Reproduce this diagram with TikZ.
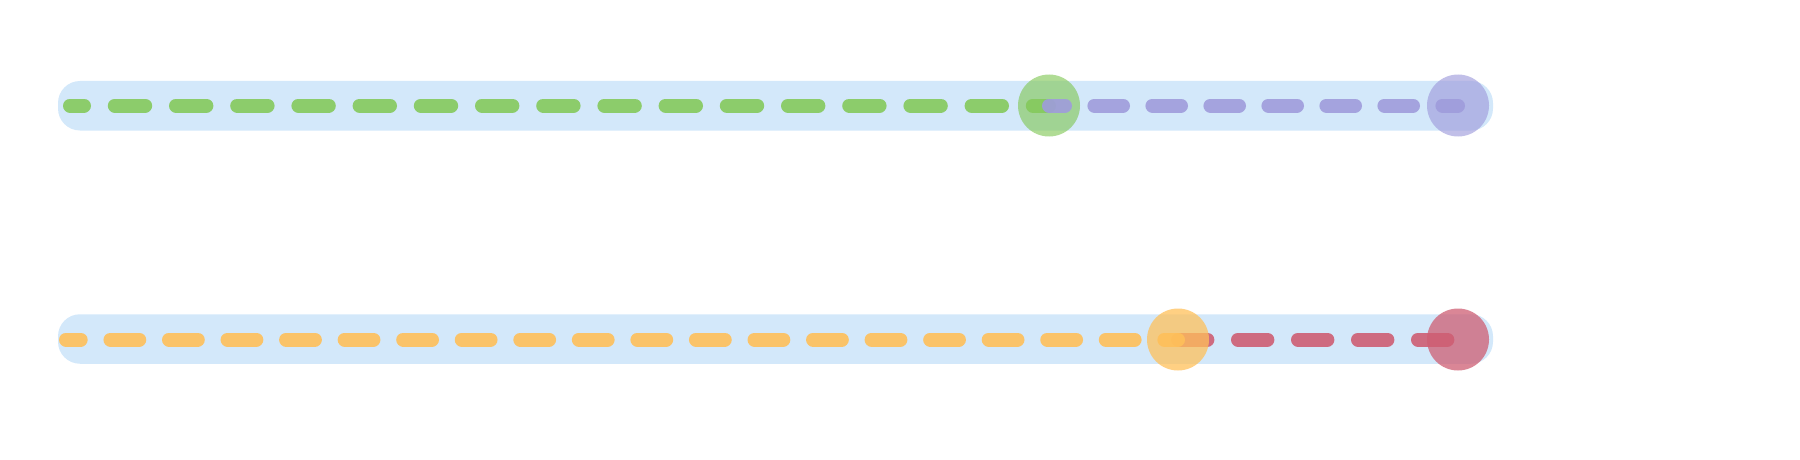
\documentclass[tikz,border=0pt]{standalone}
\usepackage{xcolor}
\usepackage{tikz}
\usetikzlibrary{positioning}

\definecolor{trackblue}{HTML}{D3E8FA}
\definecolor{greenrun}{HTML}{85C95C}
\definecolor{purplerun}{HTML}{9F9CDC}
\definecolor{orangerun}{HTML}{FFC05A}
\definecolor{redrun}{HTML}{CE5E73}

\begin{document}
\begin{tikzpicture}[x=1pt, y=-1pt,
    track/.style={draw=none, fill=trackblue, rounded corners=22pt, minimum width=1435pt, minimum height=49.5pt, inner sep=0pt},
    dot/.style={circle, draw=none, inner sep=0pt, minimum size=62pt},
    run/.style={line width=14pt, line cap=round, draw opacity=0.9}
    ]
        \useasboundingbox (0,0) rectangle (1800,460);

        %Tracks
        \node[track]    (topbar)    at (775.5,105.75)   {};
        \node[track]    (botbar)    at (775.5,339)      {};

        %Points
        \coordinate (gstart)    at (70,105.5);
        \coordinate (g)         at (1049,105.5);
        \coordinate (p)         at (1458,105.5);
        \coordinate (ostart)    at (66,339.5);
        \coordinate (o)         at (1178,339.5);
        \coordinate (r)         at (1458,339.5);

        %Top track
        \draw[run, draw=greenrun, dash pattern=on 30.4pt off 30.8pt, dash phase=16.4pt]
            (gstart) -- (g);
        \node[dot, fill=greenrun, fill opacity=0.65]    (gdot)  at (g)  {};
        \draw[run, draw=purplerun, dash pattern=on 28.6pt off 29.4pt, dash phase=12.6pt]
            (g) -- (p);
        \node[dot, fill=purplerun, fill opacity=0.65]   (pdot)  at (p)  {};

        %Bottom track
        \draw[run, draw=redrun, dash pattern=on 29.4pt off 30.6pt]
            (o) -- (r);
        \node[dot, fill=redrun, fill opacity=0.75]      (rdot)  at (r)  {};
        \draw[run, draw=orangerun, dash pattern=on 28.8pt off 29.75pt, dash phase=14.1pt]
            (ostart) -- (o);
        \node[dot, fill=orangerun, fill opacity=0.75]   (odot)  at (o)  {};
\end{tikzpicture}
\end{document}
